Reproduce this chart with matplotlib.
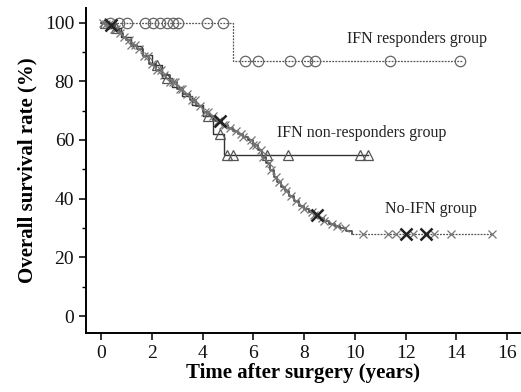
import numpy as np
import matplotlib
matplotlib.use("Agg")
import matplotlib.pyplot as plt
from matplotlib.ticker import MultipleLocator

plt.rcParams["font.family"] = ["Liberation Serif", "DejaVu Serif"]

# IFN responders group (Kaplan-Meier steps)
resp_t = [0.0, 5.2]
resp_s = [100.0, 87.0]
resp_end = 14.2
resp_cens = [0.35, 0.7, 1.02, 1.73, 2.05, 2.32, 2.6, 2.83, 3.03, 4.17, 4.8,
             5.67, 6.18, 7.44, 8.11, 8.43, 11.38, 14.13]

# IFN non-responders group
nonr_t = [0.0, 0.4, 0.8, 1.2, 1.6, 2.0, 2.4, 2.8, 3.2, 3.6, 4.0, 4.4, 4.85]
nonr_s = [100.0, 98.0, 95.0, 92.0, 89.0, 85.5, 81.0, 78.0, 75.0, 72.0, 68.0, 62.0, 55.0]
nonr_end = 10.5
nonr_cens = [0.15, 0.6, 2.2, 2.6, 4.2, 4.7, 4.96, 5.2, 6.54, 7.36, 10.2, 10.5]

# No-IFN group
noifn_t = [0.0, 0.2, 0.35, 0.5, 0.7, 0.85, 1.0, 1.2, 1.4, 1.65, 1.9, 2.15,
           2.4, 2.7, 3.0, 3.25, 3.5, 3.75, 4.0, 4.25, 4.5, 4.75, 5.0, 5.2,
           5.4, 5.6, 5.8, 6.0, 6.2, 6.35, 6.5, 6.65, 6.8, 6.95, 7.1, 7.25,
           7.4, 7.6, 7.8, 8.0, 8.2, 8.4, 8.6, 8.8, 9.0, 9.2, 9.4, 9.65, 9.9]
noifn_s = [100.0, 99.5, 99.0, 97.8, 96.5, 95.2, 94.0, 92.5, 91.0, 88.5, 86.0,
           84.0, 82.0, 79.8, 77.5, 75.5, 73.5, 71.5, 69.5, 68.0, 66.5, 65.2,
           64.0, 63.0, 62.0, 61.0, 60.0, 58.2, 56.5, 54.2, 52.0, 49.8, 47.5,
           45.8, 44.0, 42.5, 41.0, 39.2, 37.5, 36.5, 35.5, 34.5, 33.5, 32.5,
           31.5, 30.8, 30.0, 29.0, 28.0]
noifn_end = 15.4
noifn_cens = [0.1, 0.2, 0.3, 0.45, 0.5, 0.6, 0.75, 0.9, 1.1, 1.2, 1.35, 1.5,
              1.7, 1.85, 2.0, 2.2, 2.35, 2.5, 2.7, 2.85, 2.9, 3.1, 3.2, 3.4,
              3.6, 3.7, 3.9, 4.1, 4.2, 4.4, 4.6, 4.8, 4.9, 5.1, 5.3, 5.5, 5.6,
              5.9, 6.0, 6.1, 6.3, 6.4, 6.6, 6.7, 6.9, 7.0, 7.2, 7.3, 7.5, 7.7,
              7.9, 8.0, 8.3, 8.4, 8.7, 8.8, 9.1, 9.3, 9.6, 10.3, 11.3, 11.6,
              12.0, 12.3, 12.8, 13.1, 13.8, 15.4]
noifn_big = [0.4, 4.7, 8.5, 12.0, 12.8]

labels = ["IFN responders group", "IFN non-responders group", "No-IFN group"]


def km_at(times, surv, query):
    idx = np.searchsorted(times, query, side="right") - 1
    return np.asarray(surv)[idx]


def km_line(ax, times, surv, end, **kw):
    xs = list(times) + [end]
    ys = list(surv) + [surv[-1]]
    ax.plot(xs, ys, drawstyle="steps-post", **kw)


fig = plt.figure(figsize=(5.21, 3.92), dpi=100)
ax = fig.add_axes([0.165, 0.15, 0.833, 0.83])

km_line(ax, resp_t, resp_s, resp_end, color="#555555", lw=0.9, ls=(0, (1.5, 1)))
ax.plot(resp_cens, km_at(resp_t, resp_s, resp_cens), "o", ms=7.5,
        mfc="none", mec="#666666", mew=0.9)

km_line(ax, nonr_t, nonr_s, nonr_end, color="#333333", lw=1.0)
ax.plot(nonr_cens, km_at(nonr_t, nonr_s, nonr_cens), "^", ms=7.5,
        mfc="none", mec="#555555", mew=0.9)

# solid while events occur, dotted flat tail after the last event
km_line(ax, noifn_t, noifn_s, noifn_t[-1], color="#444444", lw=1.2)
ax.plot([noifn_t[-1], noifn_end], [noifn_s[-1], noifn_s[-1]],
        color="#555555", lw=0.9, ls=(0, (1.5, 1)))
ax.plot(noifn_cens, km_at(noifn_t, noifn_s, noifn_cens), "x", ms=6,
        mec="#777777", mew=0.9)
ax.plot(noifn_big, km_at(noifn_t, noifn_s, noifn_big), "x", ms=9,
        mec="#222222", mew=1.8)

ax.text(9.7, 94.5, labels[0], fontsize=11.5, va="center", color="#222222")
ax.text(6.95, 62.5, labels[1], fontsize=11.5, va="center", color="#222222")
ax.text(11.2, 36.4, labels[2], fontsize=11.5, va="center", color="#222222")

ax.set_xlim(-0.59, 16.5)
ax.set_ylim(-5.8, 105)
ax.set_xticks(np.arange(0, 17, 2))
ax.set_yticks(np.arange(0, 101, 20))
ax.yaxis.set_minor_locator(MultipleLocator(10))
ax.tick_params(axis="both", direction="out", labelsize=14, width=1.2,
               length=5, colors="#111111")
ax.tick_params(axis="y", which="minor", length=3, width=1)
for side in ("top", "right"):
    ax.spines[side].set_visible(False)
for side in ("left", "bottom"):
    ax.spines[side].set_linewidth(1.4)

ax.set_xlabel("Time after surgery (years)", fontsize=15, fontweight="bold", labelpad=1)
ax.set_ylabel("Overall survival rate (%)", fontsize=15, fontweight="bold", labelpad=5)

fig.savefig("out.png", dpi=100)
